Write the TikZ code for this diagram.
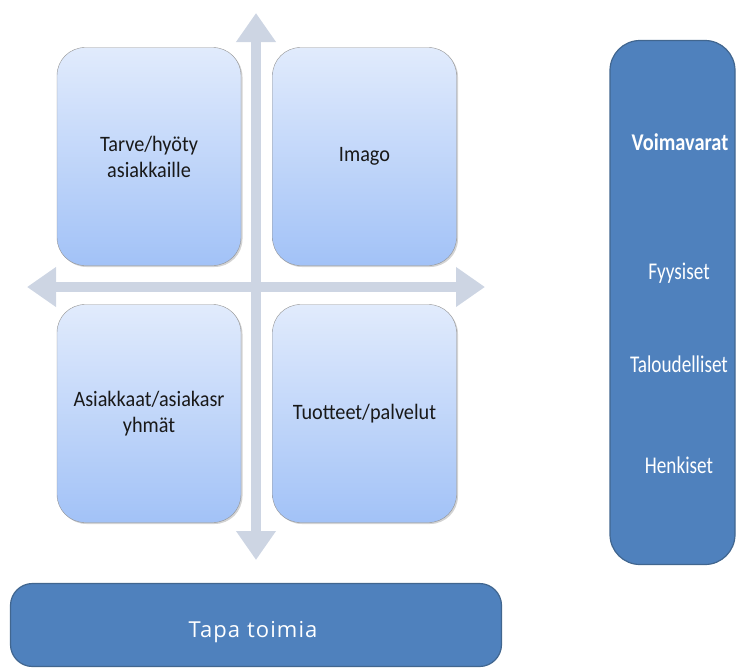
\documentclass[tikz,border=0pt]{standalone}
\usepackage{fontspec}
\setmainfont{Carlito}
\newfontfamily\wayfont[LetterSpace=5]{Open Sans}
\usetikzlibrary{arrows.meta, shadows}
\definecolor{axisgray}{HTML}{CDD5E3}
\definecolor{darkblue}{HTML}{4F81BD}
\definecolor{darkedge}{HTML}{41668F}
\definecolor{lighttop}{HTML}{E1EBFC}
\definecolor{lightbottom}{HTML}{A2C2F7}

\begin{document}
\begin{tikzpicture}[x=1pt, y=-1pt,
    lightbox/.style={draw=gray!85, rounded corners=28pt, minimum width=184pt,
        minimum height=218pt, top color=lighttop, bottom color=lightbottom,
        align=center, text=black!90,
        font=\fontsize{22}{26}\selectfont\addfontfeature{FakeStretch=0.92},
        drop shadow={shadow xshift=1.5pt, shadow yshift=-1.5pt, opacity=0.35}},
    darkbox/.style={draw=darkedge, line width=1.2pt, fill=darkblue, text=white},
    resource/.style={text=white, anchor=base,
        font=\fontsize{24}{26}\selectfont\addfontfeature{FakeStretch=0.8}},
    axis/.style={axisgray, line width=10pt,
        {Triangle[width=38pt,length=29pt]}-{Triangle[width=38pt,length=29pt]}}]
    \useasboundingbox (0,0) rectangle (736,670);

    % axes of the quadrant
    \coordinate (top) at (256,13);
    \coordinate (bottom) at (256,560);
    \coordinate (left) at (27,287);
    \coordinate (right) at (485,287);
    \draw[axis] (top) -- (bottom);
    \draw[axis] (left) -- (right);

    \node[lightbox] (need) at (149,156.5) {Tarve/hyöty\\asiakkaille};
    \node[lightbox] (image) at (364.5,156.5) {Imago};
    \node[lightbox] (customers) at (149,413.5) {Asiakkaat/asiakasr\\yhmät};
    \node[lightbox] (products) at (364.5,413.5) {Tuotteet/palvelut};

    % resources
    \node[darkbox, rounded corners=30pt, minimum width=125pt, minimum height=524pt]
        (resources) at (672.5,302.5) {};
    \node[resource, font=\fontsize{24}{26}\selectfont\bfseries\addfontfeature{FakeStretch=0.85}]
        (voima) at (680,150) {Voimavarat};
    \node[resource] (fyys) at (679,279) {Fyysiset};
    \node[resource] (talous) at (679,372) {Taloudelliset};
    \node[resource] (henki) at (679,473) {Henkiset};

    % way of working
    \node[darkbox, rounded corners=22pt, minimum width=491pt, minimum height=83pt]
        (way) at (256,625) {};
    \node[text=white, anchor=base, font=\fontsize{22}{24}\wayfont] (waytext) at (253,637) {Tapa toimia};
\end{tikzpicture}
\end{document}
